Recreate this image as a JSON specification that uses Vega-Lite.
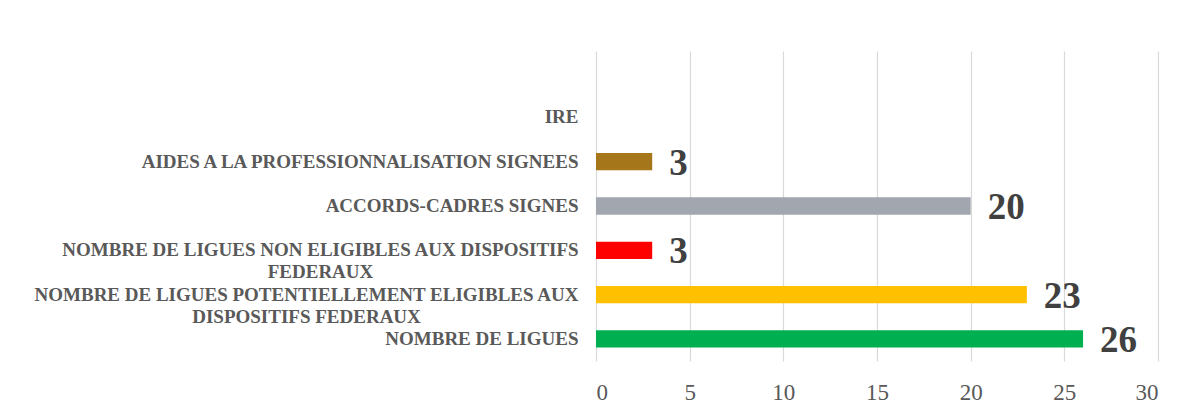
{
  "$schema": "https://vega.github.io/schema/vega-lite/v6.json",
  "width": 562,
  "height": 310,
  "autosize": {"type": "none"},
  "padding": {"left": 596, "top": 51, "right": 28, "bottom": 44},
  "background": "white",
  "config": {"view": {"stroke": null}},
  "data": {
    "values": [
      {"categorie": "IRE", "valeur": null},
      {"categorie": "AIDES A LA PROFESSIONNALISATION SIGNEES", "valeur": 3},
      {"categorie": "ACCORDS-CADRES SIGNES", "valeur": 20},
      {"categorie": "NOMBRE DE LIGUES NON ELIGIBLES AUX DISPOSITIFS FEDERAUX", "valeur": 3},
      {"categorie": "NOMBRE DE LIGUES POTENTIELLEMENT ELIGIBLES AUX DISPOSITIFS FEDERAUX", "valeur": 23},
      {"categorie": "NOMBRE DE LIGUES", "valeur": 26}
    ]
  },
  "encoding": {
    "y": {
      "field": "categorie",
      "type": "nominal",
      "sort": null,
      "title": null,
      "scale": {
        "domain": ["", "IRE", "AIDES A LA PROFESSIONNALISATION SIGNEES", "ACCORDS-CADRES SIGNES", "NOMBRE DE LIGUES NON ELIGIBLES AUX DISPOSITIFS FEDERAUX", "NOMBRE DE LIGUES POTENTIELLEMENT ELIGIBLES AUX DISPOSITIFS FEDERAUX", "NOMBRE DE LIGUES"],
        "paddingInner": 0.61,
        "paddingOuter": 0.305
      },
      "axis": {
        "domain": false,
        "ticks": false,
        "grid": false,
        "labelFont": "Liberation Serif",
        "labelFontWeight": "bold",
        "labelFontSize": 19,
        "labelColor": "#595959",
        "labelLimit": 0,
        "labelLineHeight": 22,
        "labelBaseline": "middle",
        "labelExpr": "datum.value == 'NOMBRE DE LIGUES NON ELIGIBLES AUX DISPOSITIFS FEDERAUX' ? ['NOMBRE DE LIGUES NON ELIGIBLES AUX DISPOSITIFS', 'FEDERAUX'] : datum.value == 'NOMBRE DE LIGUES POTENTIELLEMENT ELIGIBLES AUX DISPOSITIFS FEDERAUX' ? ['NOMBRE DE LIGUES POTENTIELLEMENT ELIGIBLES AUX', 'DISPOSITIFS FEDERAUX'] : datum.value",
        "labelAlign": {"condition": {"test": "length(datum.value) > 45", "value": "center"}, "value": "right"},
        "labelPadding": {"condition": [
          {"test": "indexof(datum.value, 'POTENTIEL') >= 0", "value": 290},
          {"test": "indexof(datum.value, 'NON ELIGIBLES') >= 0", "value": 276}
        ], "value": 18}
      }
    },
    "x": {
      "field": "valeur",
      "type": "quantitative",
      "title": null,
      "scale": {"domain": [0, 30], "nice": false},
      "axis": {
        "values": [0, 5, 10, 15, 20, 25, 30],
        "domain": false,
        "ticks": false,
        "grid": true,
        "gridColor": "#d9d9d9",
        "gridWidth": 1.2,
        "labelFont": "Liberation Serif",
        "labelFontSize": 23,
        "labelColor": "#595959",
        "labelPadding": 20
      }
    }
  },
  "layer": [
    {
      "mark": {"type": "bar"},
      "encoding": {
        "color": {
          "field": "categorie",
          "type": "nominal",
          "legend": null,
          "scale": {
            "domain": ["IRE", "AIDES A LA PROFESSIONNALISATION SIGNEES", "ACCORDS-CADRES SIGNES", "NOMBRE DE LIGUES NON ELIGIBLES AUX DISPOSITIFS FEDERAUX", "NOMBRE DE LIGUES POTENTIELLEMENT ELIGIBLES AUX DISPOSITIFS FEDERAUX", "NOMBRE DE LIGUES"],
            "range": ["#4472c4", "#a6761a", "#a2a6ae", "#ff0000", "#ffc000", "#00b050"]
          }
        }
      }
    },
    {
      "mark": {"type": "text", "align": "left", "baseline": "middle", "dx": 17, "dy": 2, "font": "Liberation Serif", "fontWeight": "bold", "fontSize": 37, "color": "#404040"},
      "encoding": {"text": {"field": "valeur", "type": "quantitative"}}
    }
  ]
}
